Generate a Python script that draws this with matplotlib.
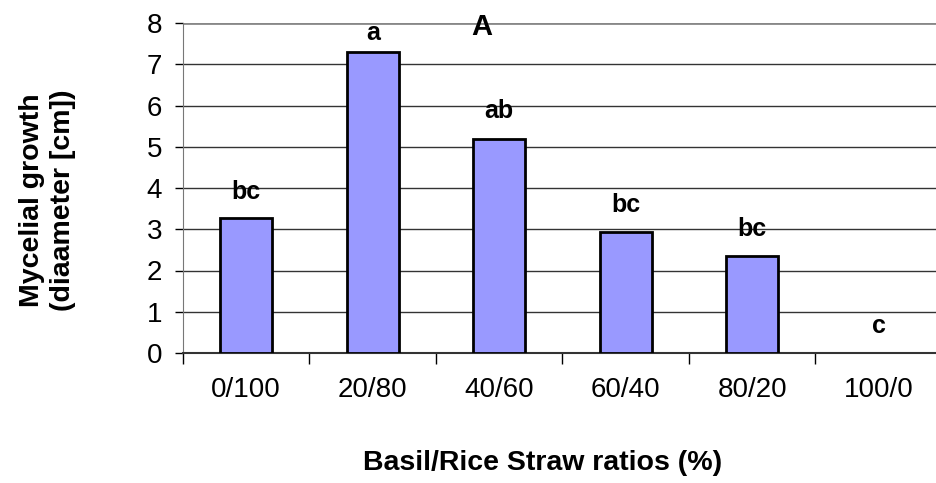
import numpy as np
import matplotlib.pyplot as plt

plt.rcParams['font.family'] = ['Liberation Sans', 'DejaVu Sans']

# data
ratios = ['0/100', '20/80', '40/60', '60/40', '80/20', '100/0']
growth = [3.27, 7.30, 5.19, 2.93, 2.36, 0.0]
letters = ['bc', 'a', 'ab', 'bc', 'bc', 'c']
letter_y = [3.73, 7.59, 5.70, 3.42, 2.84, 0.48]

fig = plt.figure(figsize=(9.37, 4.83), dpi=100)
ax = fig.add_axes([183 / 937, 1 - 353 / 483, 1 - 183 / 937, (353 - 23) / 483])

x = np.arange(len(ratios))
bars = ax.bar(x, growth, width=0.41, color='#9999FF', edgecolor='black', linewidth=2, zorder=3)
for b, g in zip(bars, growth):
    if g == 0:
        b.set_visible(False)

for xi, lab, yy in zip(x, letters, letter_y):
    ax.text(xi, yy, lab, ha='center', va='baseline', fontsize=18, fontweight='bold', zorder=4)

ax.text(1.86, 7.71, 'A', ha='center', va='baseline', fontsize=21, fontweight='bold', zorder=4)

ax.set_xlim(-0.5, 5.5 - 5 / 126.5)
ax.set_ylim(0, 8)
ax.set_yticks(range(0, 9))
ax.tick_params(axis='y', labelsize=20, length=6, width=1, pad=9, colors='black')

# Excel style: ticks between the categories, labels in the middle
ax.set_xticks(np.arange(-0.5, 5, 1.0))
ax.set_xticklabels([])
ax.set_xticks(x, minor=True)
ax.set_xticklabels(ratios, minor=True, fontsize=20)
ax.tick_params(axis='x', which='major', length=8, width=1, direction='out')
ax.tick_params(axis='x', which='minor', length=0, pad=17)

ax.grid(axis='y', color='#333333', linewidth=1, zorder=0)
ax.set_axisbelow(True)
ax.get_ygridlines()[-1].set_color('#888888')
ax.get_ygridlines()[-1].set_linewidth(2)

ax.spines['top'].set_visible(False)
ax.spines['right'].set_visible(False)
ax.spines['left'].set_color('#777777')
ax.spines['bottom'].set_color('#333333')
ax.spines['bottom'].set_linewidth(1.5)

fig.text(543 / 937, 1 - 463 / 483, 'Basil/Rice Straw ratios (%)', ha='center', va='center',
         fontsize=20.5, fontweight='bold')
fig.text(48 / 937, 1 - 200 / 483, 'Mycelial growth\n(diaameter [cm])', ha='center', va='center',
         rotation=90, fontsize=20.5, fontweight='bold', linespacing=1.25)

fig.savefig('out.png', dpi=100)
